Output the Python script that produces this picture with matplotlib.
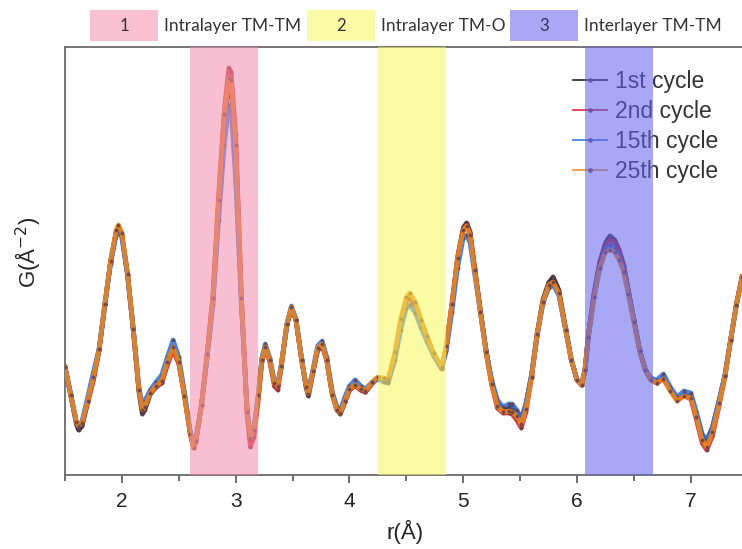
import matplotlib
matplotlib.use("Agg")
import matplotlib.pyplot as plt
from matplotlib.patches import Rectangle

# r grid (Å)
r = [1.50, 1.55, 1.60, 1.62, 1.65, 1.70, 1.75, 1.80, 1.85, 1.90,
     1.95, 1.97, 2.00, 2.05, 2.10, 2.15, 2.18, 2.20, 2.25, 2.30,
     2.35, 2.40, 2.45, 2.50, 2.55, 2.60, 2.63, 2.65, 2.70, 2.75,
     2.80, 2.85, 2.90, 2.94, 2.96, 3.00, 3.05, 3.10, 3.13, 3.16,
     3.20, 3.23, 3.26, 3.30, 3.34, 3.37, 3.40, 3.45, 3.49, 3.53,
     3.58, 3.62, 3.64, 3.68, 3.72, 3.76, 3.80, 3.85, 3.89, 3.92,
     3.96, 4.00, 4.05, 4.10, 4.14, 4.20, 4.25, 4.30, 4.34, 4.40,
     4.45, 4.50, 4.53, 4.58, 4.63, 4.68, 4.74, 4.81, 4.85, 4.90,
     4.95, 5.00, 5.03, 5.06, 5.10, 5.15, 5.20, 5.25, 5.30, 5.35,
     5.40, 5.43, 5.47, 5.51, 5.55, 5.60, 5.65, 5.70, 5.75, 5.79,
     5.84, 5.90, 5.95, 6.00, 6.04, 6.07, 6.10, 6.15, 6.20, 6.25,
     6.29, 6.33, 6.37, 6.41, 6.45, 6.50, 6.55, 6.60, 6.65, 6.70,
     6.76, 6.82, 6.88, 6.94, 7.00, 7.05, 7.10, 7.14, 7.19, 7.25,
     7.30, 7.35, 7.40, 7.45]

g_1st = [11.3, 8.5, 5.6, 5.0, 5.4, 7.8, 10.2, 13.0, 17.5, 21.8,
         24.8, 25.3, 24.5, 20.5, 15.0, 8.8, 6.6, 7.0, 8.6, 9.3,
         9.8, 11.7, 13.3, 11.8, 8.5, 4.8, 3.3, 3.9, 7.5, 12.5,
         18.0, 27.5, 36.2, 39.5, 39.2, 33.5, 18.0, 7.0, 4.0, 5.0,
         8.5, 12.0, 13.3, 12.0, 9.8, 9.5, 11.4, 15.5, 17.2, 16.0,
         12.0, 9.2, 8.4, 10.8, 13.0, 13.5, 12.0, 8.5, 7.0, 6.6,
         7.8, 9.0, 9.5, 9.0, 8.8, 9.7, 10.2, 10.0, 9.9, 12.5,
         15.8, 18.0, 18.4, 17.5, 15.8, 14.3, 12.6, 11.2, 13.2, 17.5,
         22.2, 25.2, 25.7, 24.8, 21.2, 17.0, 13.0, 9.8, 7.7, 7.0,
         7.2, 7.3, 6.7, 6.0, 7.5, 10.5, 14.7, 18.0, 19.7, 20.3,
         19.0, 15.2, 12.0, 10.0, 9.5, 11.0, 14.5, 18.7, 21.8, 23.7,
         24.4, 24.0, 23.0, 21.5, 19.0, 16.0, 13.0, 11.0, 10.0, 9.7,
         10.2, 9.0, 8.0, 8.5, 8.3, 6.5, 4.4, 3.8, 5.2, 8.0,
         10.5, 14.0, 17.5, 20.3]

g_2nd = [11.3, 8.5, 5.8, 5.4, 5.7, 7.8, 10.0, 13.0, 17.5, 21.8,
         24.8, 25.3, 24.5, 20.5, 15.0, 9.0, 7.2, 7.4, 8.7, 9.3,
         9.7, 11.5, 13.0, 11.6, 8.4, 4.6, 3.2, 3.8, 7.6, 12.8,
         18.5, 28.5, 37.0, 41.2, 40.8, 34.5, 18.5, 6.5, 3.3, 4.3,
         8.2, 11.8, 13.2, 11.8, 9.4, 9.0, 11.2, 15.5, 17.2, 16.0,
         12.0, 9.4, 8.8, 10.9, 13.0, 13.5, 12.0, 8.5, 7.2, 6.8,
         7.8, 9.0, 9.4, 9.0, 8.8, 9.7, 10.2, 10.0, 9.9, 12.5,
         15.8, 17.9, 18.2, 17.4, 15.8, 14.3, 12.6, 11.2, 13.2, 17.5,
         22.2, 25.0, 25.5, 24.6, 21.2, 17.0, 12.8, 9.5, 7.2, 6.7,
         6.7, 6.6, 6.0, 5.2, 6.8, 10.2, 14.5, 17.8, 19.4, 19.8,
         18.6, 15.0, 12.0, 10.0, 9.5, 11.0, 14.5, 18.6, 21.6, 23.4,
         24.0, 23.7, 22.8, 21.4, 19.0, 16.0, 13.0, 11.0, 10.0, 9.7,
         10.1, 9.0, 8.0, 8.4, 8.1, 6.0, 3.7, 3.0, 4.4, 7.5,
         10.3, 14.0, 17.5, 20.3]

g_15th = [11.3, 8.6, 5.8, 5.4, 5.9, 8.3, 10.8, 13.2, 17.5, 21.6,
          24.5, 25.0, 24.2, 20.5, 15.2, 9.3, 7.5, 7.9, 9.0, 9.8,
          10.5, 12.3, 14.0, 12.3, 8.8, 4.9, 3.5, 4.1, 7.5, 12.3,
          17.5, 26.0, 33.5, 37.5, 37.0, 30.0, 17.5, 7.2, 4.2, 5.2,
          8.7, 12.2, 13.6, 12.2, 9.9, 9.6, 11.5, 15.6, 17.4, 16.1,
          12.1, 9.4, 8.8, 11.1, 13.4, 13.9, 12.3, 8.8, 7.3, 7.0,
          8.3, 9.4, 10.0, 9.4, 9.1, 9.8, 10.1, 9.8, 9.7, 12.0,
          15.0, 17.2, 17.5, 16.7, 15.2, 13.9, 12.4, 11.1, 12.9, 16.8,
          21.2, 24.2, 24.5, 23.7, 20.6, 16.8, 13.0, 10.0, 8.0, 7.3,
          7.6, 7.6, 7.0, 6.2, 7.6, 10.4, 14.4, 17.6, 19.2, 19.5,
          18.5, 15.0, 12.0, 10.0, 9.6, 11.0, 14.3, 18.3, 21.2, 23.0,
          23.5, 23.2, 22.3, 21.0, 18.8, 16.0, 13.0, 11.1, 10.2, 10.0,
          10.6, 9.3, 8.3, 8.9, 8.7, 6.8, 4.6, 4.0, 5.3, 8.0,
          10.5, 14.0, 17.4, 20.2]

g_25th = [11.3, 8.5, 5.8, 5.4, 5.7, 7.9, 10.3, 13.1, 17.6, 21.9,
          25.0, 25.5, 24.7, 20.6, 15.1, 9.0, 7.0, 7.3, 8.7, 9.4,
          9.9, 11.8, 13.3, 11.8, 8.4, 4.6, 3.2, 3.9, 7.5, 12.6,
          18.2, 28.0, 36.6, 40.2, 40.0, 33.5, 18.2, 6.8, 4.2, 5.0,
          8.5, 12.0, 13.3, 12.0, 9.7, 9.4, 11.4, 15.6, 17.3, 16.0,
          12.0, 9.3, 8.6, 10.9, 13.2, 13.6, 12.0, 8.5, 7.0, 6.7,
          7.9, 9.1, 9.5, 9.1, 8.9, 9.8, 10.3, 10.2, 10.1, 12.8,
          16.1, 18.3, 18.7, 17.8, 16.0, 14.4, 12.7, 11.3, 13.4, 17.6,
          22.2, 25.0, 25.4, 24.5, 21.0, 16.8, 12.8, 9.6, 7.4, 6.8,
          6.9, 6.8, 6.4, 5.6, 7.1, 10.3, 14.6, 17.8, 19.5, 19.8,
          18.7, 15.0, 12.0, 10.0, 9.5, 11.0, 14.3, 18.3, 21.2, 22.8,
          23.0, 22.8, 22.0, 20.8, 18.6, 15.8, 12.9, 11.0, 10.0, 9.7,
          10.1, 8.9, 7.9, 8.4, 8.2, 6.3, 4.0, 3.3, 4.8, 7.7,
          10.4, 14.0, 17.5, 20.3]

series_labels = ["1st cycle", "2nd cycle", "15th cycle", "25th cycle"]
series_colors = ["#101020", "#d81b2c", "#2c6fd8", "#ee8a1e"]

# shaded r ranges and their names
band_ranges = [(2.60, 3.20), (4.25, 4.85), (6.07, 6.67)]
band_names = ["Intralayer TM-TM", "Intralayer TM-O", "Interlayer TM-TM"]
band_colors = ["#f48cad", "#f8f65b", "#6161ed"]
band_boxes = ["#f9c0d2", "#fbfaa5", "#a8a8f5"]

W, H = 742, 549
fig = plt.figure(figsize=(W / 100, H / 100), dpi=100)
ax = fig.add_axes([65 / W, 74 / H, 677 / W, 428 / H])

for g, lab, c in zip([g_1st, g_2nd, g_15th, g_25th], series_labels, series_colors):
    ax.plot(r, g, color=c, lw=3.4, marker="o", ms=2.4, mfc="#6a4048",
            mec="#6a4048", mew=0.3, alpha=0.85, label=lab, zorder=3,
            solid_joinstyle="round")

for (a, b), c in zip(band_ranges, band_colors):
    ax.axvspan(a, b, color=c, alpha=0.55, lw=0, zorder=6)

ax.set_xlim(1.5, 7.45)
ax.set_ylim(0.5, 43.3)
ax.set_xticks([2, 3, 4, 5, 6, 7])
ax.set_xticks([1.5, 2.5, 3.5, 4.5, 5.5, 6.5], minor=True)
ax.set_yticks([])
ax.tick_params(axis="x", which="major", length=6, width=1.2, color="#555555",
               labelsize=15, pad=6)
ax.tick_params(axis="x", which="minor", length=4, width=1.2, color="#555555")
for lbl in ax.get_xticklabels():
    lbl.set_fontfamily("Liberation Sans")
    lbl.set_color("#222222")
ax.spines["right"].set_visible(False)
for s in ["left", "top", "bottom"]:
    ax.spines[s].set_color("#6a6a6a")
    ax.spines[s].set_linewidth(1.3)

ax.set_xlabel("r(Å)", fontsize=16, family="Liberation Sans", color="#222222")
ax.xaxis.set_label_coords(0.502, -0.105)
ax.set_ylabel("G(Å$^{-2}$)", fontsize=16, family="Liberation Sans", color="#222222")
ax.yaxis.set_label_coords(-0.033, 0.52)

leg = ax.legend(loc="upper left", bbox_to_anchor=(573 / W, 1 - 70 / H),
                bbox_transform=fig.transFigure, frameon=False,
                prop={"family": "Liberation Sans", "size": 16.5},
                handlelength=1.5, handletextpad=0.35, labelspacing=0.3,
                borderpad=0, borderaxespad=0)
for t in leg.get_texts():
    t.set_color("#333333")
for h in leg.legend_handles:
    h.set_linewidth(1.3)
    h.set_markersize(3)

# labels of the shaded bands above the plot
box_x = [90, 307, 510]
box_w = 68
for i, (x0, name, c) in enumerate(zip(box_x, band_names, band_boxes)):
    fig.patches.append(Rectangle((x0 / W, 1 - 41 / H), box_w / W, 31 / H,
                                 transform=fig.transFigure, color=c, lw=0))
    fig.text((x0 + box_w / 2) / W, 1 - 26 / H, str(i + 1), ha="center", va="center",
             fontsize=12, family="Lato", color="#333366" if i == 2 else "#333333")
    fig.text((x0 + box_w + 6) / W, 1 - 26 / H, name, ha="left", va="center",
             fontsize=12.5, family="Lato", color="#333333")

fig.savefig("out.png", dpi=100)
